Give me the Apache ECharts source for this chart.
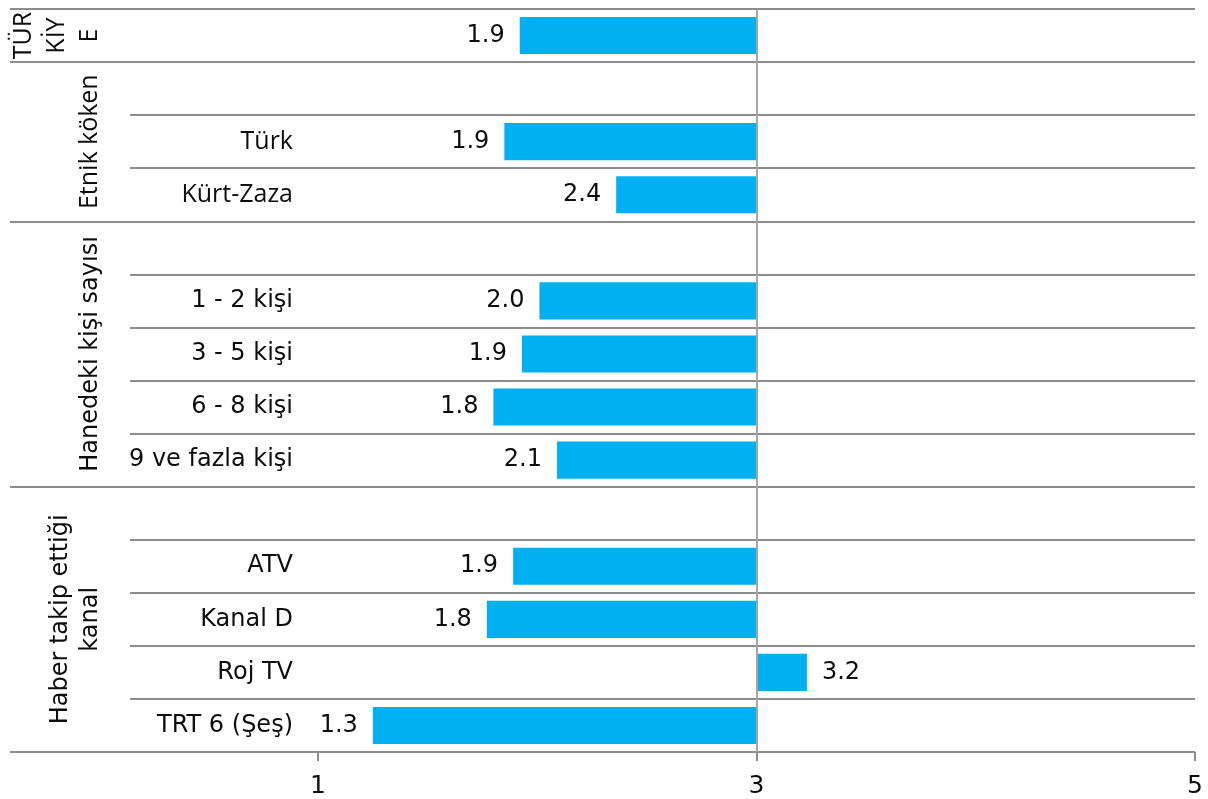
<!DOCTYPE html>
<html>
<head>
<meta charset="utf-8">
<script src="https://cdn.jsdelivr.net/npm/echarts@6/dist/echarts.min.js"></script>
<style>
  html, body { margin: 0; padding: 0; background: #ffffff; }
  #chart { width: 1208px; height: 799px; }
</style>
</head>
<body>
<div id="chart"></div>
<script>
// Rows from top to bottom; an empty label is a group's heading row
const rowLabels = ['', '', 'Türk', 'Kürt-Zaza', '', '1 - 2 kişi', '3 - 5 kişi', '6 - 8 kişi', '9 ve fazla kişi', '', 'ATV', 'Kanal D', 'Roj TV', 'TRT 6 (Şeş)'];
const rowValues = [1.92, null, 1.85, 2.36, null, 2.01, 1.93, 1.80, 2.09, null, 1.89, 1.77, 3.23, 1.25];
const groupNames = ['TÜR\nKİY\nE', 'Etnik köken', 'Hanedeki kişi sayısı', 'Haber takip ettiği\nkanal'];
const groupSizes = [1, 3, 5, 5];
const xTicks = [1, 3, 5];
const baseline = 3;

// Derived layout of the grouped category axis
const groupStarts = [];
groupSizes.reduce((acc, n) => { groupStarts.push(acc); return acc + n; }, 0);
const groupLabelAt = rowLabels.map(() => '');
const rowGroup = [];
groupNames.forEach((name, g) => {
  groupLabelAt[groupStarts[g] + Math.floor(groupSizes[g] / 2)] = name;
  for (let k = 0; k < groupSizes[g]; k++) rowGroup.push(g);
});
const groupStartSet = new Set(groupStarts);
const humanistGroups = new Set([0, 1]);

const INK = '#0d0d0d';
const RULE = '#8c8c8c';
const MAIN_FONT = 'DejaVu Sans';

function wrapRich(text, key) {
  return text.split('\n').map(line => '{' + key + '|' + line + '}').join('\n');
}

const chart = echarts.init(document.getElementById('chart'), null, { renderer: 'canvas' });

const gridBox = { top: 9, bottom: 47, right: 13 };

chart.setOption({
  animation: false,
  backgroundColor: '#ffffff',
  grid: [
    Object.assign({ left: 318 }, gridBox),
    Object.assign({ left: 130 }, gridBox),
    Object.assign({ left: 10 }, gridBox)
  ],
  xAxis: [
    {
      gridIndex: 0,
      type: 'value',
      min: xTicks[0],
      max: xTicks[xTicks.length - 1],
      interval: xTicks[1] - xTicks[0],
      axisLine: { show: false },
      axisTick: { show: true, length: 9, lineStyle: { color: RULE, width: 2 } },
      splitLine: { show: false },
      axisLabel: { fontSize: 25, fontFamily: MAIN_FONT, color: INK, margin: 22 }
    },
    { gridIndex: 1, type: 'value', show: false },
    { gridIndex: 2, type: 'value', show: false }
  ],
  yAxis: [
    {
      gridIndex: 0,
      type: 'category',
      inverse: true,
      data: rowLabels,
      axisLine: { show: false },
      axisTick: { show: false },
      splitLine: { show: false },
      axisLabel: {
        interval: 0,
        margin: 25,
        fontSize: 24,
        fontFamily: MAIN_FONT,
        color: INK,
        formatter: (v, i) => (rowLabels[i] && humanistGroups.has(rowGroup[i])) ? wrapRich(rowLabels[i], 'h') : rowLabels[i],
        rich: { h: { fontFamily: 'Open Sans', fontSize: 25, color: INK } }
      }
    },
    {
      gridIndex: 1,
      type: 'category',
      inverse: true,
      data: rowLabels,
      axisLine: { show: false },
      axisTick: { show: false },
      splitLine: { show: true, interval: 0, lineStyle: { color: RULE, width: 2 } },
      axisLabel: {
        interval: 0,
        rotate: 90,
        margin: 24,
        fontSize: 24,
        lineHeight: 30,
        fontFamily: MAIN_FONT,
        color: INK,
        formatter: (v, i) => {
          const t = groupLabelAt[i];
          if (!t) return '';
          return wrapRich(t, humanistGroups.has(rowGroup[i]) ? 'h' : 'm');
        },
        rich: {
          h: { fontFamily: 'Open Sans', fontSize: 25, lineHeight: 33, color: INK },
          m: { fontFamily: MAIN_FONT, fontSize: 24, lineHeight: 30, color: INK }
        }
      }
    },
    {
      gridIndex: 2,
      type: 'category',
      inverse: true,
      data: rowLabels,
      axisLine: { show: false },
      axisTick: { show: false },
      axisLabel: { show: false },
      splitLine: { show: true, interval: (i) => groupStartSet.has(i), lineStyle: { color: RULE, width: 2 } }
    }
  ],
  series: [
    {
      // invisible spacer so each bar grows out of the baseline
      type: 'bar',
      xAxisIndex: 0,
      yAxisIndex: 0,
      stack: 'fromBase',
      silent: true,
      barCategoryGap: '30%',
      itemStyle: { color: 'rgba(0,0,0,0)' },
      data: rowValues.map(v => v == null ? null : Math.min(v, baseline))
    },
    {
      type: 'bar',
      xAxisIndex: 0,
      yAxisIndex: 0,
      stack: 'fromBase',
      barCategoryGap: '30%',
      itemStyle: { color: '#00B0F0' },
      label: {
        show: true,
        distance: 15,
        fontSize: 24,
        fontFamily: MAIN_FONT,
        color: INK,
        formatter: p => rowValues[p.dataIndex].toFixed(1)
      },
      data: rowValues.map(v => v == null ? null : {
        value: Math.abs(v - baseline),
        label: { position: v < baseline ? 'left' : 'right' }
      }),
      markLine: {
        silent: true,
        symbol: 'none',
        label: { show: false },
        lineStyle: { color: '#a6a6a6', width: 2, type: 'solid' },
        data: [{ xAxis: baseline }]
      }
    }
  ]
});
</script>
</body>
</html>
